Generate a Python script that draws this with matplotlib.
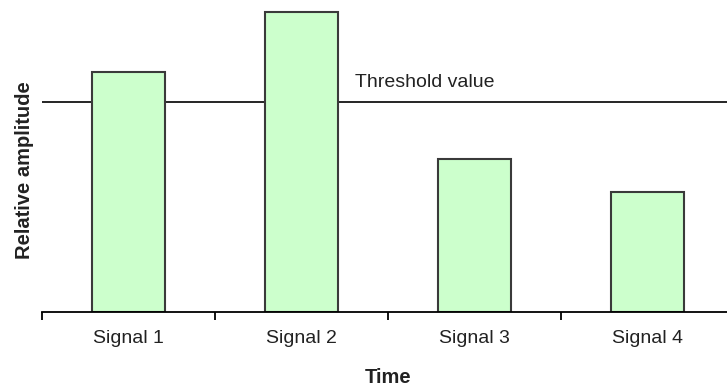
import matplotlib
matplotlib.use("Agg")
import matplotlib.pyplot as plt
import numpy as np

categories = ["Signal 1", "Signal 2", "Signal 3", "Signal 4"]
amplitudes = [0.80, 1.00, 0.51, 0.40]
threshold = 0.70
threshold_label = "Threshold value"

plt.rcParams["font.family"] = ["Liberation Sans", "DejaVu Sans"]

fig = plt.figure(figsize=(7.27, 3.90), dpi=100)
W, H = 727, 390
ax = fig.add_axes([42 / W, (H - 312) / H, 692 / W, 312 / H])

x = np.arange(len(categories))
ax.axhline(threshold, color="black", lw=1.2, zorder=1)
ax.bar(x, amplitudes, width=0.42, color="#ccffcc", edgecolor="#3a3a3a",
       linewidth=1.5, zorder=2)
ax.text(1.31, threshold + 0.065, threshold_label, fontsize=14,
        color="#222222", va="center", ha="left")

ax.set_xlim(-0.5, len(categories) - 0.5)
ax.set_ylim(0, 1.04)

for side in ("top", "right", "left"):
    ax.spines[side].set_visible(False)
ax.spines["bottom"].set_linewidth(1.3)

ax.set_yticks([])
ax.set_xticks(x)
ax.set_xticklabels(categories, fontsize=14, color="#222222")
ax.tick_params(axis="x", which="major", length=0, pad=13)
ax.set_xticks(np.arange(-0.5, len(categories)), minor=True)
ax.tick_params(axis="x", which="minor", length=6, width=1.3, direction="out")

ax.set_xlabel("Time", fontsize=14.5, fontweight="bold", labelpad=15,
              color="#222222")
ax.set_ylabel("Relative amplitude", fontsize=14.5, fontweight="bold",
              color="#222222")
ax.yaxis.set_label_coords(-0.011, 0.455)

fig.savefig("out.png", dpi=100)
